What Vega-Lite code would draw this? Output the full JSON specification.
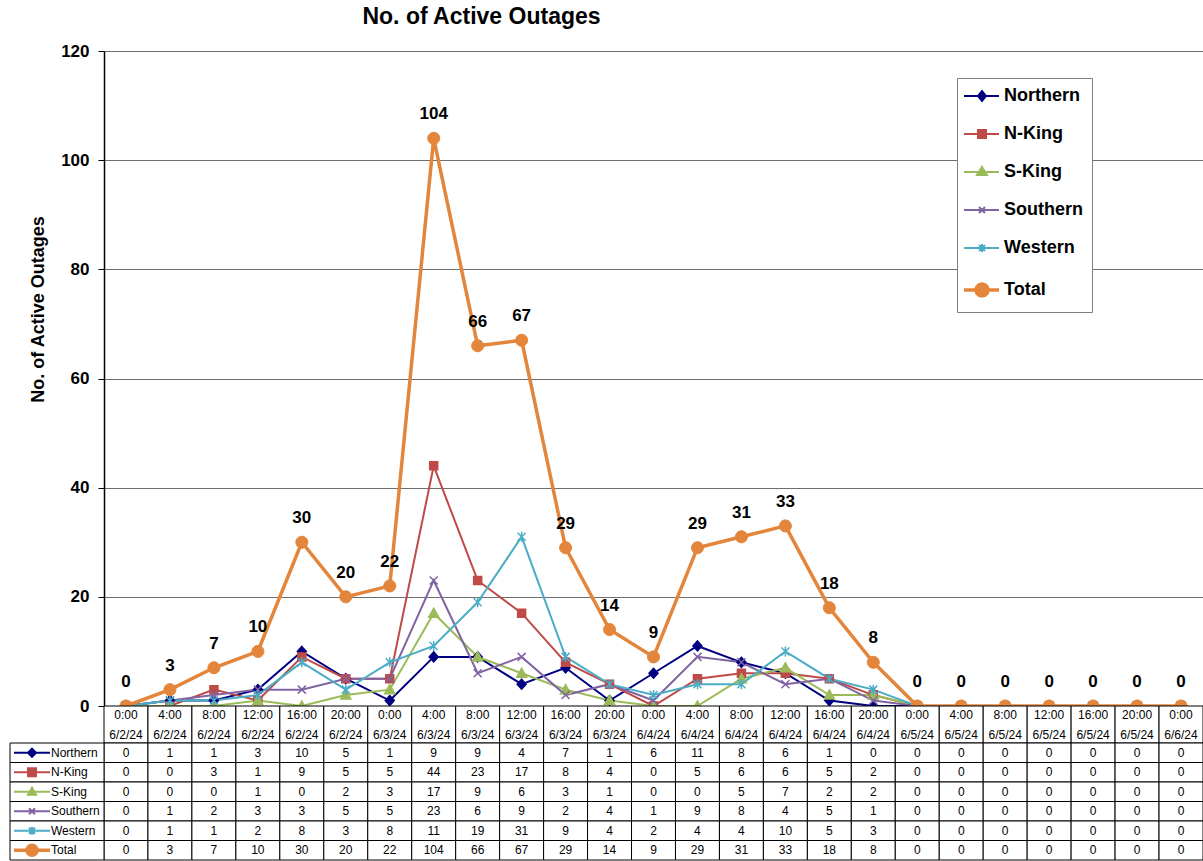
{
  "$schema": "https://vega.github.io/schema/vega-lite/v6.json",
  "autosize": {"type": "none"},
  "width": 1099,
  "height": 655,
  "padding": {"left": 104, "top": 51, "right": 0, "bottom": 155},
  "background": "white",
  "title": {"text": "No. of Active Outages", "fontSize": 23, "fontWeight": "bold", "font": "Liberation Sans", "color": "#000", "anchor": "middle", "frame": "group", "dx": -172, "offset": 13},
  "config": {"font": "Liberation Sans", "view": {"stroke": null}},
  "datasets": {
    "w": [
      {"slot": "0:00 6/2/24", "Northern": 0, "N-King": 0, "S-King": 0, "Southern": 0, "Western": 0, "Total": 0},
      {"slot": "4:00 6/2/24", "Northern": 1, "N-King": 0, "S-King": 0, "Southern": 1, "Western": 1, "Total": 3},
      {"slot": "8:00 6/2/24", "Northern": 1, "N-King": 3, "S-King": 0, "Southern": 2, "Western": 1, "Total": 7},
      {"slot": "12:00 6/2/24", "Northern": 3, "N-King": 1, "S-King": 1, "Southern": 3, "Western": 2, "Total": 10},
      {"slot": "16:00 6/2/24", "Northern": 10, "N-King": 9, "S-King": 0, "Southern": 3, "Western": 8, "Total": 30},
      {"slot": "20:00 6/2/24", "Northern": 5, "N-King": 5, "S-King": 2, "Southern": 5, "Western": 3, "Total": 20},
      {"slot": "0:00 6/3/24", "Northern": 1, "N-King": 5, "S-King": 3, "Southern": 5, "Western": 8, "Total": 22},
      {"slot": "4:00 6/3/24", "Northern": 9, "N-King": 44, "S-King": 17, "Southern": 23, "Western": 11, "Total": 104},
      {"slot": "8:00 6/3/24", "Northern": 9, "N-King": 23, "S-King": 9, "Southern": 6, "Western": 19, "Total": 66},
      {"slot": "12:00 6/3/24", "Northern": 4, "N-King": 17, "S-King": 6, "Southern": 9, "Western": 31, "Total": 67},
      {"slot": "16:00 6/3/24", "Northern": 7, "N-King": 8, "S-King": 3, "Southern": 2, "Western": 9, "Total": 29},
      {"slot": "20:00 6/3/24", "Northern": 1, "N-King": 4, "S-King": 1, "Southern": 4, "Western": 4, "Total": 14},
      {"slot": "0:00 6/4/24", "Northern": 6, "N-King": 0, "S-King": 0, "Southern": 1, "Western": 2, "Total": 9},
      {"slot": "4:00 6/4/24", "Northern": 11, "N-King": 5, "S-King": 0, "Southern": 9, "Western": 4, "Total": 29},
      {"slot": "8:00 6/4/24", "Northern": 8, "N-King": 6, "S-King": 5, "Southern": 8, "Western": 4, "Total": 31},
      {"slot": "12:00 6/4/24", "Northern": 6, "N-King": 6, "S-King": 7, "Southern": 4, "Western": 10, "Total": 33},
      {"slot": "16:00 6/4/24", "Northern": 1, "N-King": 5, "S-King": 2, "Southern": 5, "Western": 5, "Total": 18},
      {"slot": "20:00 6/4/24", "Northern": 0, "N-King": 2, "S-King": 2, "Southern": 1, "Western": 3, "Total": 8},
      {"slot": "0:00 6/5/24", "Northern": 0, "N-King": 0, "S-King": 0, "Southern": 0, "Western": 0, "Total": 0},
      {"slot": "4:00 6/5/24", "Northern": 0, "N-King": 0, "S-King": 0, "Southern": 0, "Western": 0, "Total": 0},
      {"slot": "8:00 6/5/24", "Northern": 0, "N-King": 0, "S-King": 0, "Southern": 0, "Western": 0, "Total": 0},
      {"slot": "12:00 6/5/24", "Northern": 0, "N-King": 0, "S-King": 0, "Southern": 0, "Western": 0, "Total": 0},
      {"slot": "16:00 6/5/24", "Northern": 0, "N-King": 0, "S-King": 0, "Southern": 0, "Western": 0, "Total": 0},
      {"slot": "20:00 6/5/24", "Northern": 0, "N-King": 0, "S-King": 0, "Southern": 0, "Western": 0, "Total": 0},
      {"slot": "0:00 6/6/24", "Northern": 0, "N-King": 0, "S-King": 0, "Southern": 0, "Western": 0, "Total": 0}
    ]
  },
  "data": {"name": "w"},
  "transform": [{"fold": ["Northern", "N-King", "S-King", "Southern", "Western", "Total"], "as": ["series", "v"]}],
  "resolve": {"scale": {"x": "independent", "y": "independent", "shape": "independent", "fill": "independent", "strokeWidth": "independent"}},
  "layer": [
    {
      "layer": [
        {
          "transform": [{"filter": "datum.series !== 'Total'"}],
          "mark": {"type": "line", "strokeWidth": 2},
          "encoding": {
            "x": {"field": "slot", "type": "nominal", "sort": null, "scale": {"type": "band", "paddingInner": 0, "paddingOuter": 0}, "axis": null},
            "y": {"field": "v", "type": "quantitative", "scale": {"domain": [0, 120], "nice": false, "zero": true},
              "axis": {"values": [0, 20, 40, 60, 80, 100, 120], "grid": true, "gridColor": "#6e6e6e", "gridWidth": 1, "domainColor": "#000", "domainWidth": 1.5, "tickColor": "#000", "tickSize": 6, "labelFont": "Liberation Sans", "labelFontSize": 17, "labelFontWeight": "bold", "labelColor": "#000", "labelPadding": 9, "title": "No. of Active Outages", "titleFont": "Liberation Sans", "titleFontSize": 18, "titleFontWeight": "bold", "titleColor": "#000", "titleX": -66, "titleY": 258, "titleAngle": -90, "titleAlign": "center", "titleBaseline": "middle"}},
            "color": {"field": "series", "type": "nominal",
              "scale": {"domain": ["Northern", "N-King", "S-King", "Southern", "Western", "Total"], "range": ["#000080", "#BE4B48", "#9BBB59", "#8064A2", "#4BACC6", "#E3863C"]},
              "legend": {"orient": "none", "legendX": 853, "legendY": 27, "title": null, "labelFont": "Liberation Sans", "labelFontSize": 18, "labelFontWeight": "bold", "labelColor": "#000", "fillColor": "#fff", "strokeColor": "#7f7f7f", "padding": 9, "rowPadding": 20, "labelOffset": 20, "symbolSize": 4,
                "encode": {"symbols": {"update": {
                  "shape": {"signal": "datum.value === 'Northern' ? 'M-11,0H24M7,-5L11,0L7,5L3,0Z' : datum.value === 'N-King' ? 'M-11,0H24M3,-4H11V4H3Z' : datum.value === 'S-King' ? 'M-11,0H24M7,-5L12,3H2Z' : datum.value === 'Southern' ? 'M-11,0H24M4,-3L10,3M4,3L10,-3' : datum.value === 'Western' ? 'M-11,0H24M4,-3L10,3M4,3L10,-3M7,-4V4' : 'M-11,0H24M13,0L12.2,3L10,5.2L7,6L4,5.2L1.8,3L1,0L1.8,-3L4,-5.2L7,-6L10,-5.2L12.2,-3Z'"},
                  "size": {"value": 4},
                  "fill": {"scale": "color", "field": "value"},
                  "stroke": {"scale": "color", "field": "value"},
                  "strokeWidth": {"signal": "datum.value === 'Total' ? 3.5 : 2"},
                  "opacity": {"value": 1},
                  "fillOpacity": {"value": 1}
                }}}}
            }
          }
        },
        {
          "transform": [{"filter": "datum.series !== 'Total'"}],
          "mark": {"type": "point", "filled": false, "strokeWidth": 1.5, "opacity": 1},
          "encoding": {
            "x": {"field": "slot", "type": "nominal", "sort": null},
            "y": {"field": "v", "type": "quantitative"},
            "color": {"field": "series", "type": "nominal"},
            "fill": {"field": "series", "type": "nominal", "scale": {"domain": ["Northern", "N-King", "S-King", "Southern", "Western", "Total"], "range": ["#000080", "#BE4B48", "#9BBB59", "#8064A2", "#4BACC6", "#E3863C"]}, "legend": null},
            "shape": {"field": "series", "type": "nominal", "scale": {"domain": ["Northern", "N-King", "S-King", "Southern", "Western", "Total"], "range": ["M0,-5L4.5,0L0,5L-4.5,0Z", "M-4,-4H4V4H-4Z", "M0,-5L5,4H-5Z", "M-4,-4L4,4M-4,4L4,-4", "M-4,-4L4,4M-4,4L4,-4M0,-5V5", "M-6,0A6,6 0 1,0 6,0A6,6 0 1,0 -6,0Z"]}, "legend": null},
            "size": {"value": 4}
          }
        },
        {
          "transform": [{"filter": "datum.series === 'Total'"}],
          "mark": {"type": "line", "strokeWidth": 3.5},
          "encoding": {
            "x": {"field": "slot", "type": "nominal", "sort": null},
            "y": {"field": "v", "type": "quantitative"},
            "color": {"field": "series", "type": "nominal"}
          }
        },
        {
          "transform": [{"filter": "datum.series === 'Total'"}],
          "mark": {"type": "point", "filled": false, "strokeWidth": 1, "opacity": 1},
          "encoding": {
            "x": {"field": "slot", "type": "nominal", "sort": null},
            "y": {"field": "v", "type": "quantitative"},
            "color": {"field": "series", "type": "nominal"},
            "fill": {"field": "series", "type": "nominal"},
            "shape": {"field": "series", "type": "nominal"},
            "size": {"value": 4}
          }
        },
        {
          "transform": [{"filter": "datum.series === 'Total'"}],
          "mark": {"type": "text", "fontSize": 17, "fontWeight": "bold", "font": "Liberation Sans", "color": "#000", "dy": -24, "baseline": "middle"},
          "encoding": {
            "x": {"field": "slot", "type": "nominal", "sort": null},
            "y": {"field": "v", "type": "quantitative"},
            "text": {"field": "v", "type": "quantitative"}
          }
        }
      ]
    },
    {
      "transform": [{"filter": "datum.series === 'Total'"}],
      "layer": [
        {
          "mark": {"type": "rect", "fill": "#fff", "stroke": "#000", "strokeWidth": 1},
          "encoding": {
            "x": {"field": "slot", "type": "nominal", "sort": null, "scale": {"type": "band", "paddingInner": 0, "paddingOuter": 0}, "axis": null},
            "y": {"datum": "hdr", "type": "nominal", "scale": {"type": "band", "domain": ["hdr"], "range": [655, 692], "paddingInner": 0, "paddingOuter": 0}, "axis": null}
          }
        },
        {
          "mark": {"type": "text", "fontSize": 12, "font": "Liberation Sans", "color": "#000", "lineBreak": " ", "lineHeight": 20, "baseline": "middle", "dy": -10},
          "encoding": {
            "x": {"field": "slot", "type": "nominal", "sort": null},
            "y": {"datum": "hdr", "type": "nominal"},
            "text": {"field": "slot", "type": "nominal"}
          }
        }
      ]
    },
    {
      "layer": [
        {
          "mark": {"type": "rect", "fill": "#fff", "stroke": "#000", "strokeWidth": 1},
          "encoding": {
            "x": {"field": "slot", "type": "nominal", "sort": null, "scale": {"type": "band", "paddingInner": 0, "paddingOuter": 0}, "axis": null},
            "y": {"field": "series", "type": "nominal", "scale": {"type": "band", "domain": ["Northern", "N-King", "S-King", "Southern", "Western", "Total"], "range": [692, 809], "paddingInner": 0, "paddingOuter": 0}, "axis": null}
          }
        },
        {
          "mark": {"type": "text", "fontSize": 12, "font": "Liberation Sans", "color": "#000", "baseline": "middle"},
          "encoding": {
            "x": {"field": "slot", "type": "nominal", "sort": null},
            "y": {"field": "series", "type": "nominal"},
            "text": {"field": "v", "type": "quantitative"}
          }
        }
      ]
    },
    {
      "transform": [{"filter": "datum.slot === '0:00 6/2/24'"}],
      "layer": [
        {
          "mark": {"type": "rect", "fill": "#fff", "stroke": "#000", "strokeWidth": 1},
          "encoding": {
            "x": {"datum": "h", "type": "nominal", "scale": {"type": "band", "domain": ["h"], "range": [-94, 0], "paddingInner": 0, "paddingOuter": 0}, "axis": null},
            "y": {"field": "series", "type": "nominal", "scale": {"type": "band", "domain": ["Northern", "N-King", "S-King", "Southern", "Western", "Total"], "range": [692, 809], "paddingInner": 0, "paddingOuter": 0}, "axis": null}
          }
        },
        {
          "mark": {"type": "point", "filled": false, "opacity": 1},
          "encoding": {
            "x": {"datum": "h", "type": "nominal"},
            "y": {"field": "series", "type": "nominal"},
            "color": {"field": "series", "type": "nominal"},
            "fill": {"field": "series", "type": "nominal", "scale": {"domain": ["Northern", "N-King", "S-King", "Southern", "Western", "Total"], "range": ["#000080", "#BE4B48", "#9BBB59", "#8064A2", "#4BACC6", "#E3863C"]}, "legend": null},
            "shape": {"field": "series", "type": "nominal", "scale": {"domain": ["Northern", "N-King", "S-King", "Southern", "Western", "Total"], "range": ["M-43,0H-7M-25,-4L-21,0L-25,4L-29,0Z", "M-43,0H-7M-29,-4H-21V4H-29Z", "M-43,0H-7M-25,-4L-21,3H-29Z", "M-43,0H-7M-28,-3L-22,3M-28,3L-22,-3", "M-43,0H-7M-28,-3L-22,3M-28,3L-22,-3M-25,-4V4", "M-43,0H-7M-30,0A5,5 0 1,0 -20,0A5,5 0 1,0 -30,0Z"]}, "legend": null},
            "size": {"value": 4},
            "strokeWidth": {"condition": {"test": "datum.series === 'Total'", "value": 3.5}, "value": 2}
          }
        },
        {
          "mark": {"type": "text", "fontSize": 12, "font": "Liberation Sans", "color": "#000", "align": "left", "dx": -6, "baseline": "middle"},
          "encoding": {
            "x": {"datum": "h", "type": "nominal"},
            "y": {"field": "series", "type": "nominal"},
            "text": {"field": "series", "type": "nominal"}
          }
        }
      ]
    }
  ]
}
